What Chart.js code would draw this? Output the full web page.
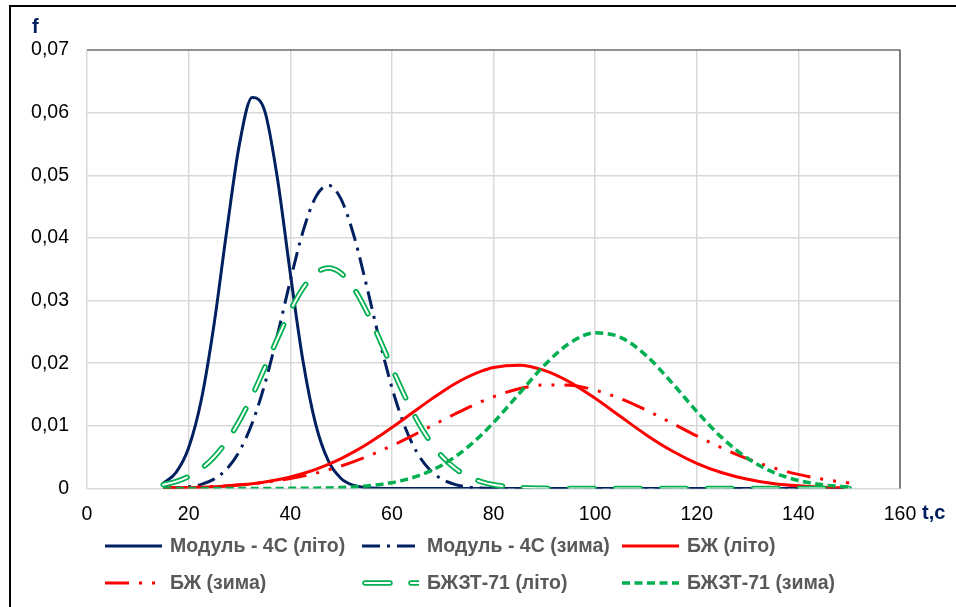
<!DOCTYPE html>
<html>
<head>
<meta charset="utf-8">
<script src="https://cdn.jsdelivr.net/npm/chart.js@4"></script>
<style>
  html, body { margin: 0; padding: 0; background: #fff; overflow: hidden; }
  #wrap { position: relative; width: 956px; height: 607px; }
  #frame {
    position: absolute; left: 9px; top: 5px; right: -10px; bottom: -10px;
    border-top: 2px solid #000; border-left: 2px solid #000; pointer-events: none;
  }
</style>
</head>
<body>
<div id="wrap">
  <canvas id="distChart"></canvas>
  <div id="frame"></div>
</div>
<script>
// Time axis (t, c) sample points
const times = [15, 17.5, 20, 22.5, 25, 27.5, 30, 32.5, 35, 37.5, 40, 42.5, 45, 47.5, 50, 52.5, 55, 57.5,
  60, 62.5, 65, 67.5, 70, 72.5, 75, 77.5, 80, 85, 90, 95, 100, 105, 110, 115, 120, 125, 130, 135, 140, 145, 150];

// Density f for each equipment / season
const modulSummer = [0.00085, 0.00254, 0.00651, 0.01417, 0.02619, 0.04115, 0.05497, 0.0624, 0.06021, 0.04938,
  0.03441, 0.02039, 0.01027, 0.0044, 0.0016, 0.00049, 0.00013, 0.00003,
  0, 0, 0, 0, 0, 0, 0, 0, 0, 0, 0, 0, 0, 0, 0, 0, 0, 0, 0, 0, 0, 0, 0];
const modulWinter = [0.00003, 0.0001, 0.00027, 0.00066, 0.0015, 0.00312, 0.00596, 0.01041, 0.0167, 0.02456,
  0.03313, 0.041, 0.04651, 0.0484, 0.04619, 0.04043, 0.03245, 0.0239, 0.01613, 0.00999, 0.00567, 0.00295,
  0.00141, 0.00062, 0.00025, 0.00009, 0.00003, 0, 0, 0, 0, 0, 0, 0, 0, 0, 0, 0, 0, 0, 0];
const bzhSummer = [0.00006, 0.00009, 0.00013, 0.00019, 0.00028, 0.00039, 0.00055, 0.00076, 0.00104, 0.00139,
  0.00184, 0.00239, 0.00306, 0.00385, 0.00478, 0.00584, 0.00703, 0.00833, 0.00973, 0.01118, 0.01266, 0.01411,
  0.01549, 0.01675, 0.01784, 0.01871, 0.01932, 0.01968, 0.01885, 0.01699, 0.0144, 0.01148, 0.0086, 0.00607,
  0.00402, 0.00251, 0.00147, 0.00081, 0.00042, 0.00021, 0.00009];
const bzhWinter = [0.0001, 0.00013, 0.00018, 0.00025, 0.00034, 0.00045, 0.00059, 0.00077, 0.00099, 0.00126,
  0.00159, 0.00198, 0.00244, 0.00298, 0.00359, 0.00429, 0.00506, 0.00591, 0.00682, 0.0078, 0.00882, 0.00986,
  0.01091, 0.01193, 0.01292, 0.01383, 0.01465, 0.01591, 0.01654, 0.01647, 0.0157, 0.01434, 0.01253, 0.01049,
  0.0084, 0.00645, 0.00474, 0.00333, 0.00225, 0.00145, 0.00089];
const bzhztSummer = [0.00061, 0.0011, 0.00192, 0.00318, 0.00502, 0.00755, 0.01083, 0.01481, 0.0193, 0.02396,
  0.02835, 0.03197, 0.03436, 0.0352, 0.03436, 0.03197, 0.02835, 0.02396, 0.0193, 0.01481, 0.01083, 0.00755,
  0.00502, 0.00318, 0.00192, 0.0011, 0.00061, 0.00016, 0.00003, 0, 0, 0, 0, 0, 0, 0, 0, 0, 0, 0, 0];
const bzhztWinter = [0, 0, 0, 0, 0, 0, 0, 0, 0, 0,
  0.00002, 0.00003, 0.00005, 0.00009, 0.00015, 0.00025, 0.0004, 0.00062, 0.00093, 0.00138, 0.00198, 0.00278,
  0.00381, 0.0051, 0.00665, 0.00847, 0.01052, 0.0151, 0.01966, 0.02321, 0.02485, 0.02413, 0.02126, 0.01698,
  0.0123, 0.00808, 0.00482, 0.0026, 0.00128, 0.00057, 0.00023];

const seriesNames = ['Модуль - 4С (літо)', 'Модуль - 4С (зима)', 'БЖ (літо)', 'БЖ (зима)', 'БЖЗТ-71 (літо)', 'БЖЗТ-71 (зима)'];

const yTicks = [0, 0.01, 0.02, 0.03, 0.04, 0.05, 0.06, 0.07];
const xTicks = [0, 20, 40, 60, 80, 100, 120, 140, 160];

const NAVY = '#002060';
const RED = '#FF0000';
const GREEN = '#00B050';
const FONT = "'Liberation Sans', Arial, sans-serif";

function toPoints(values) {
  return times.map((t, i) => ({ x: t, y: values[i] }));
}

function lineSet(label, values, color, width, dash, order, extra) {
  return Object.assign({
    label,
    data: toPoints(values),
    borderColor: color,
    borderWidth: width,
    borderDash: dash,
    pointRadius: 0,
    cubicInterpolationMode: 'monotone',
    fill: false,
    order
  }, extra || {});
}

const datasets = [
  lineSet(seriesNames[0], modulSummer, NAVY, 3, [], 7),
  lineSet(seriesNames[1], modulWinter, NAVY, 3, [18, 7, 3, 7], 6),
  lineSet(seriesNames[2], bzhSummer, RED, 3, [], 5),
  lineSet(seriesNames[3], bzhWinter, RED, 3, [24, 10, 3, 10, 3, 10], 4),
  // double line: green outer stroke with a white core on top
  lineSet(seriesNames[4], bzhztSummer, GREEN, 5.5, [25, 21], 3, { borderCapStyle: 'round' }),
  lineSet('', bzhztSummer, '#FFFFFF', 2, [25, 21], 2, { borderCapStyle: 'round' }),
  lineSet(seriesNames[5], bzhztWinter, GREEN, 3.5, [8, 4.5], 1)
];

// Legend grid: three columns, two rows
const legendCols = [105, 362, 622];
const legendRows = [546, 583];
const legendItems = [
  { ds: [0], text: seriesNames[0] },
  { ds: [1], text: seriesNames[1] },
  { ds: [2], text: seriesNames[2] },
  { ds: [3], text: seriesNames[3] },
  { ds: [4, 5], text: seriesNames[4] },
  { ds: [6], text: seriesNames[5] }
];

const decorPlugin = {
  id: 'decor',
  afterDraw(chart) {
    const { ctx, chartArea } = chart;
    ctx.save();

    // dark frame on top and right edges of the plot
    ctx.strokeStyle = '#404040';
    ctx.lineWidth = 1.2;
    ctx.beginPath();
    ctx.moveTo(chartArea.left, chartArea.top);
    ctx.lineTo(chartArea.right, chartArea.top);
    ctx.lineTo(chartArea.right, chartArea.bottom);
    ctx.stroke();

    // axis names
    ctx.fillStyle = NAVY;
    ctx.font = 'bold 20px ' + FONT;
    ctx.textBaseline = 'alphabetic';
    ctx.textAlign = 'left';
    ctx.fillText('f', 32, 33);
    ctx.fillText('t,c', 922, 519);

    // legend
    legendItems.forEach((item, i) => {
      const x0 = legendCols[i % 3];
      const y = legendRows[Math.floor(i / 3)];
      item.ds.forEach(idx => {
        const d = chart.data.datasets[idx];
        ctx.save();
        ctx.beginPath();
        ctx.rect(x0 - 3, y - 8, 60, 16);
        ctx.clip();
        ctx.strokeStyle = d.borderColor;
        ctx.lineWidth = d.borderWidth;
        ctx.lineCap = d.borderCapStyle || 'butt';
        ctx.setLineDash(d.borderDash || []);
        const start = d.borderCapStyle === 'round' ? x0 + 3 : x0;
        ctx.beginPath();
        ctx.moveTo(start, y);
        ctx.lineTo(x0 + 57, y);
        ctx.stroke();
        ctx.restore();
      });
      ctx.fillStyle = '#595959';
      ctx.font = 'bold 19.5px ' + FONT;
      ctx.textBaseline = 'middle';
      ctx.fillText(item.text, x0 + 65, y + 1);
    });

    ctx.restore();
  }
};

new Chart(document.getElementById('distChart'), {
  type: 'line',
  data: { datasets },
  options: {
    responsive: true,
    maintainAspectRatio: false,
    animation: false,
    layout: { padding: { top: 50, right: 56, bottom: 0, left: 0 } },
    plugins: {
      legend: { display: false },
      tooltip: { enabled: false }
    },
    scales: {
      x: {
        type: 'linear',
        min: 0,
        max: 160,
        afterBuildTicks: (scale) => { scale.ticks = xTicks.map(v => ({ value: v })); },
        afterFit: (scale) => { scale.height = 118.5; },
        border: { display: false },
        grid: { color: '#D9D9D9', lineWidth: 1.5, drawTicks: false },
        ticks: {
          color: '#000',
          padding: 14,
          font: { family: FONT, size: 19.5 },
          maxRotation: 0
        }
      },
      y: {
        min: 0,
        max: 0.07,
        afterBuildTicks: (scale) => { scale.ticks = yTicks.map(v => ({ value: v })); },
        afterFit: (scale) => { scale.width = 87; },
        border: { display: false },
        grid: { color: '#D9D9D9', lineWidth: 1.5, drawTicks: false },
        ticks: {
          color: '#000',
          padding: 18,
          font: { family: FONT, size: 19.5 },
          callback: (v) => v === 0 ? '0' : v.toFixed(2).replace('.', ',')
        }
      }
    }
  },
  plugins: [decorPlugin]
});
</script>
</body>
</html>
